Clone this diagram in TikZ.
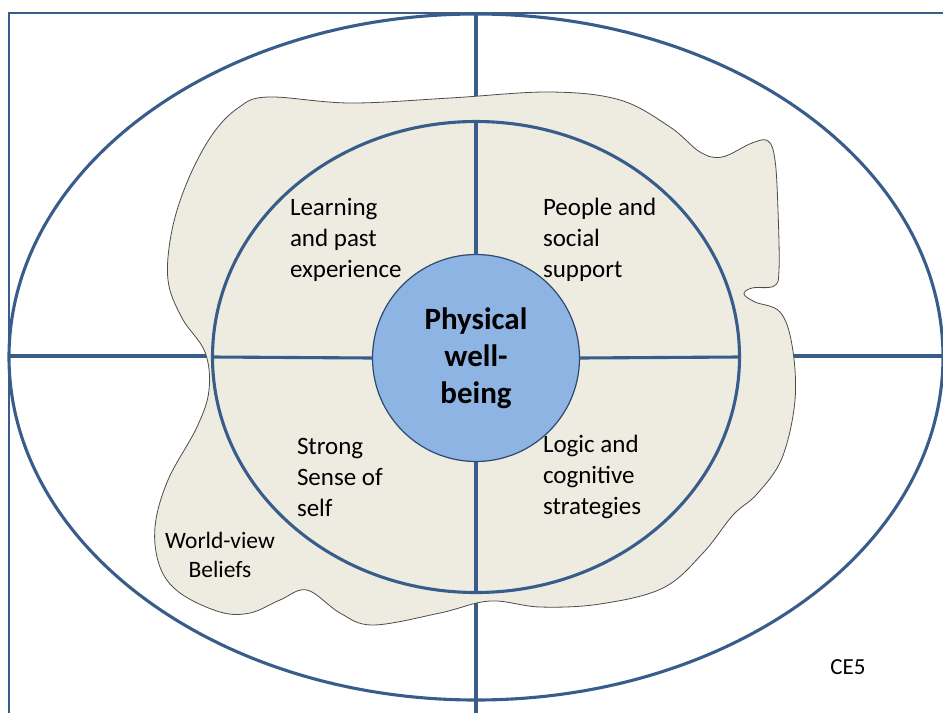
\documentclass[tikz,border=0pt]{standalone}
\usepackage{fontspec}
\setmainfont{Carlito}
\usetikzlibrary{shapes.geometric}
\usetikzlibrary{positioning}

\definecolor{ringblue}{HTML}{385D8A}
\definecolor{blobgrey}{HTML}{EEECE1}
\definecolor{coreblue}{HTML}{8EB4E3}

\begin{document}
\begin{tikzpicture}
[x=1pt,y=-1pt,
ring/.style={ringblue,line width=3.1pt},
quad/.style={anchor=west,align=left,inner sep=0pt,font=\fontsize{25}{31}\selectfont},
every node/.style={inner sep=0pt,outer sep=0pt}]

\useasboundingbox (0,0) rectangle (943,713);

% frame and outer ring
\coordinate (top) at (476,13);
\coordinate (bot) at (476,713);
\coordinate (lft) at (9,356);
\coordinate (rgt) at (943,356);
\coordinate (corner) at (9,13);
\draw[ring,line width=2.5pt] (943,13) -- (corner) -- (9,713);
\node[ring,draw,ellipse,minimum width=934pt,minimum height=686pt] (outer) at (476,357) {};
\draw[ring] (top) -- (bot);
\draw[ring] (lft) -- (rgt);

% world-view blob
\draw[fill=blobgrey,draw=black!70,line width=0.8pt] plot[smooth cycle,tension=0.6] coordinates {
 (268,97) (350,103) (450,98) (550,92) (620,100) (670,127) (700,152) (722,157)
 (752,143) (768,141) (775,160) (778,210) (779,270) (774,286) (752,288) (744,294)
 (755,302) (780,312) (792,345) (795,400) (782,458) (757,494) (733,515) (703,553)
 (663,588) (600,604) (540,607) (490,601) (440,613) (373,625) (340,613) (307,590)
 (280,600) (250,613) (220,612) (180,593) (160,567) (155,527) (168,480) (197,427)
 (209,390) (205,352) (182,318) (168,280) (172,230) (188,180) (212,135) (238,108)};

% middle ring
\node[ring,draw,ellipse,minimum width=527pt,minimum height=471pt] (mid) at (476,357) {};
\node[circle,draw=ringblue!80!black,line width=1.2pt,fill=coreblue,minimum size=207pt,
  align=center,font=\fontsize{31}{37}\selectfont\bfseries] (core) at (476,358)
  {Physical\\well-\\being};
\draw[ring] (mid.north) -- (core.north);
\draw[ring] (core.south) -- (mid.south);
\draw[ring] (mid.west) -- (core.west);
\draw[ring] (core.east) -- (mid.east);

\node[quad] (learn) at (290,240) {Learning\\and past\\experience};
\node[quad] (people) at (543,240) {People and\\social\\support};
\node[quad] (self) at (297,477) {Strong\\Sense of\\self};
\node[quad] (logic) at (543,477) {Logic and\\cognitive\\strategies};
\node[align=center,font=\fontsize{23.5}{29}\selectfont] (world) at (220,555) {World-view\\Beliefs};
\node[font=\fontsize{23}{28}\selectfont] (tag) at (848,667) {CE5};
\end{tikzpicture}
\end{document}
